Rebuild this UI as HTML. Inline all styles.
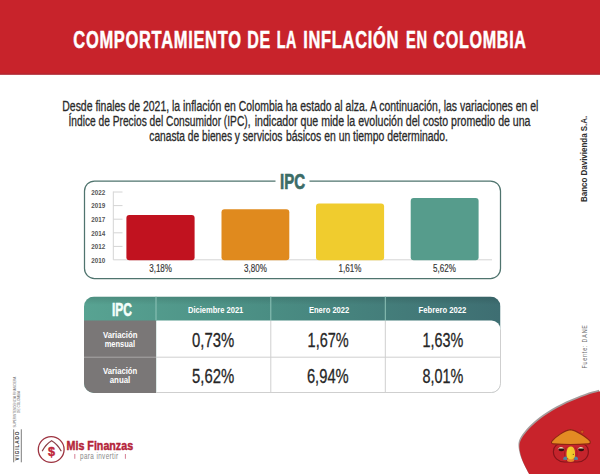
<!DOCTYPE html>
<html lang="es">
<head>
<meta charset="utf-8">
<title>Comportamiento de la inflación en Colombia</title>
<style>
html,body{margin:0;padding:0;background:#fff;}
body{width:600px;height:474px;overflow:hidden;font-family:"Liberation Sans",sans-serif;}
svg{display:block;}
text{font-family:"Liberation Sans",sans-serif;}
.b{font-weight:bold;}
</style>
</head>
<body>
<svg width="600" height="474" viewBox="0 0 600 474">
<defs>
<linearGradient id="hd" x1="0" y1="0" x2="1" y2="0">
<stop offset="0" stop-color="#58a392"/>
<stop offset="0.45" stop-color="#4a8d83"/>
<stop offset="1" stop-color="#3e6e72"/>
</linearGradient>
<linearGradient id="hdv" x1="0" y1="0" x2="0" y2="1">
<stop offset="0" stop-color="#000" stop-opacity="0.12"/>
<stop offset="0.35" stop-color="#000" stop-opacity="0"/>
</linearGradient>
<clipPath id="tblclip"><rect x="84" y="296.5" width="416.5" height="96.5" rx="10" ry="10"/></clipPath>
</defs>

<!-- header -->
<rect x="0" y="0" width="600" height="74.6" fill="#c8232b"/>
<rect x="0" y="73.6" width="600" height="1" fill="#a52a36"/>
<g class="b" font-size="23.3" fill="#fff" stroke="#fff" stroke-width="0.5" letter-spacing="1">
<text x="73.3" y="48" textLength="168.4" lengthAdjust="spacingAndGlyphs">COMPORTAMIENTO</text>
<text x="247.3" y="48" textLength="23.7" lengthAdjust="spacingAndGlyphs">DE</text>
<text x="276.7" y="48" textLength="20.3" lengthAdjust="spacingAndGlyphs">LA</text>
<text x="303.3" y="48" textLength="95.7" lengthAdjust="spacingAndGlyphs">INFLACIÓN</text>
<text x="406" y="48" textLength="21.7" lengthAdjust="spacingAndGlyphs">EN</text>
<text x="433.3" y="48" textLength="93.4" lengthAdjust="spacingAndGlyphs">COLOMBIA</text>
</g>

<!-- paragraph -->
<g fill="#2a2a2a" stroke="#2a2a2a" stroke-width="0.3" font-size="14">
<text x="62.3" y="110.8" textLength="476" lengthAdjust="spacingAndGlyphs">Desde finales de 2021, la inflación en Colombia ha estado al alza. A continuación, las variaciones en el</text>
<text x="68.5" y="126" textLength="182" lengthAdjust="spacingAndGlyphs">Índice de Precios del Consumidor (IPC),</text>
<text x="254.7" y="126" textLength="275.8" lengthAdjust="spacingAndGlyphs">indicador que mide la evolución del costo promedio de una</text>
<text x="149.3" y="141.2" textLength="133.1" lengthAdjust="spacingAndGlyphs">canasta de bienes y servicios</text>
<text x="286" y="141.2" textLength="162" lengthAdjust="spacingAndGlyphs">básicos en un tiempo determinado.</text>
</g>

<!-- chart box -->
<path d="M275.5 181 H94.5 a10 10 0 0 0 -10 10 V268.5 a10 10 0 0 0 10 10 H490.5 a10 10 0 0 0 10 -10 V191 a10 10 0 0 0 -10 -10 H309.5" fill="none" stroke="#4f746e" stroke-width="1.25"/>
<text class="b" x="280" y="189" font-size="22.6" fill="#3b6c66" stroke="#3b6c66" stroke-width="0.7" textLength="25" lengthAdjust="spacingAndGlyphs">IPC</text>

<!-- axis -->
<g stroke="#d4d4d4" stroke-width="1" fill="none">
<path d="M113.3 191.5 V259.8 H492"/>
<path d="M113.3 192 H122.5 M113.3 205.6 H122.5 M113.3 219.2 H122.5 M113.3 232.8 H122.5 M113.3 246.4 H122.5"/>
</g>
<g class="b" font-size="8" fill="#555">
<text x="91.3" y="194.8" textLength="14" lengthAdjust="spacingAndGlyphs">2022</text>
<text x="91.3" y="208.4" textLength="14" lengthAdjust="spacingAndGlyphs">2019</text>
<text x="91.3" y="222" textLength="14" lengthAdjust="spacingAndGlyphs">2017</text>
<text x="91.3" y="235.6" textLength="14" lengthAdjust="spacingAndGlyphs">2014</text>
<text x="91.3" y="249.2" textLength="14" lengthAdjust="spacingAndGlyphs">2012</text>
<text x="91.3" y="262.8" textLength="14" lengthAdjust="spacingAndGlyphs">2010</text>
</g>

<!-- bars -->
<rect x="126.4" y="214.9" width="68.2" height="45.3" rx="3" fill="#c1121f"/>
<rect x="221.5" y="209.3" width="67.8" height="50.9" rx="3" fill="#e08a1e"/>
<rect x="316" y="203.5" width="68.1" height="56.7" rx="3" fill="#f0cc2e"/>
<rect x="410.7" y="197.9" width="67.9" height="62.3" rx="3" fill="#569c8c"/>

<g font-size="10.2" fill="#333" stroke="#333" stroke-width="0.15" text-anchor="middle">
<text x="160.6" y="272.3" textLength="22.8" lengthAdjust="spacingAndGlyphs">3,18%</text>
<text x="255.5" y="272.3" textLength="22.8" lengthAdjust="spacingAndGlyphs">3,80%</text>
<text x="350" y="272.3" textLength="22.8" lengthAdjust="spacingAndGlyphs">1,61%</text>
<text x="444.4" y="272.3" textLength="22.8" lengthAdjust="spacingAndGlyphs">5,62%</text>
</g>

<!-- table -->
<g clip-path="url(#tblclip)">
<rect x="84" y="296.5" width="416.5" height="96.5" fill="url(#hd)"/>
<rect x="84" y="296.5" width="416.5" height="24" fill="url(#hdv)"/>
<rect x="84" y="320.5" width="72.2" height="72.5" fill="#7a7777"/>
<path d="M156.2 320.5 H491.5 a9 9 0 0 1 9 9 V393 H156.2 Z" fill="#fff"/>
<rect x="84" y="356.7" width="72" height="1" fill="#a9a7a7"/>
</g>
<g stroke="#cfcfcf" stroke-width="1" fill="none">
<path d="M156 357.2 H500.5"/>
<path d="M270.8 320.5 V393 M385.3 320.5 V393"/>
<path d="M156 392.5 H491.5 a9 9 0 0 0 9 -9 V329.5"/>
</g>
<g stroke="#8fc4b8" stroke-width="1" fill="none">
<path d="M156 296.5 V320.5 M270.8 296.5 V320.5 M385.3 296.5 V320.5"/>
</g>

<text class="b" x="112" y="316.2" font-size="18.7" fill="#f4fffb" stroke="#f4fffb" stroke-width="0.6" textLength="20" lengthAdjust="spacingAndGlyphs">IPC</text>
<g class="b" font-size="9.4" fill="#fff">
<text x="188" y="313" textLength="55.3" lengthAdjust="spacingAndGlyphs">Diciembre 2021</text>
<text x="308.9" y="313" textLength="40.3" lengthAdjust="spacingAndGlyphs">Enero 2022</text>
<text x="418.6" y="313" textLength="47.7" lengthAdjust="spacingAndGlyphs">Febrero 2022</text>
</g>
<g class="b" font-size="9.8" fill="#fff">
<text x="103" y="338.3" textLength="34.5" lengthAdjust="spacingAndGlyphs">Variación</text>
<text x="104.7" y="347" textLength="30.3" lengthAdjust="spacingAndGlyphs">mensual</text>
<text x="103" y="373.8" textLength="34.3" lengthAdjust="spacingAndGlyphs">Variación</text>
<text x="109.7" y="382.5" textLength="20.6" lengthAdjust="spacingAndGlyphs">anual</text>
</g>
<g font-size="20.4" fill="#262626" stroke="#262626" stroke-width="0.3">
<text x="192" y="347.1" textLength="42.2" lengthAdjust="spacingAndGlyphs">0,73%</text>
<text x="307.6" y="347.1" textLength="41.1" lengthAdjust="spacingAndGlyphs">1,67%</text>
<text x="422.4" y="347.1" textLength="40.8" lengthAdjust="spacingAndGlyphs">1,63%</text>
<text x="192" y="383.3" textLength="42.2" lengthAdjust="spacingAndGlyphs">5,62%</text>
<text x="306.9" y="383.3" textLength="41.8" lengthAdjust="spacingAndGlyphs">6,94%</text>
<text x="422.4" y="383.3" textLength="40.8" lengthAdjust="spacingAndGlyphs">8,01%</text>
</g>

<!-- side texts -->
<text class="b" font-size="8.9" fill="#2e2e2e" transform="translate(586.9 202) rotate(-90)" textLength="86.3" lengthAdjust="spacingAndGlyphs">Banco Davivienda S.A.</text>
<text font-size="7.8" fill="#6a6a6a" letter-spacing="1.2" transform="translate(587 368.6) rotate(-90)" textLength="44.3" lengthAdjust="spacingAndGlyphs">Fuente: DANE</text>

<!-- red corner -->
<path d="M600.0 391.2 C595.3 392.4 591.4 393.4 585.9 395.4 C580.4 397.4 573.3 400.0 567.0 403.0 C560.7 406.0 553.4 410.0 548.0 413.4 C542.6 416.8 538.5 420.2 534.7 423.5 C530.9 426.8 527.6 430.5 525.2 433.4 C522.8 436.3 521.4 438.5 520.4 441.0 C519.4 443.5 519.2 445.4 519.5 448.6 C519.8 451.8 520.7 455.8 522.3 460.0 C523.9 464.2 527.2 470.3 529.0 474.0 H600 Z" fill="#a59c9c" transform="translate(-0.9 -1.4)"/>
<path d="M600.0 391.2 C595.3 392.4 591.4 393.4 585.9 395.4 C580.4 397.4 573.3 400.0 567.0 403.0 C560.7 406.0 553.4 410.0 548.0 413.4 C542.6 416.8 538.5 420.2 534.7 423.5 C530.9 426.8 527.6 430.5 525.2 433.4 C522.8 436.3 521.4 438.5 520.4 441.0 C519.4 443.5 519.2 445.4 519.5 448.6 C519.8 451.8 520.7 455.8 522.3 460.0 C523.9 464.2 527.2 470.3 529.0 474.0 H600 Z" fill="#c8232b"/>

<!-- mascot -->
<g>
<path d="M553.4 451.5 C553.4 446 557.5 443.4 562 443.4 H580 C584.5 443.4 588.4 446 588.4 451.5 C588.4 457.8 583.5 461.9 577.5 462 H564.5 C558.5 461.9 553.4 457.8 553.4 451.5 Z" fill="#c5242c" stroke="#86141a" stroke-width="1.2"/>
<path d="M566.2 447.5 C563.5 452 564 458 567.5 461.6 M575.4 447.5 C578 452 577.6 458 574 461.6" fill="none" stroke="#a01a20" stroke-width="0.8"/>
<path d="M557.6 449.2 q3.3 -4.2 7 0 z" fill="#f6e6c0"/>
<path d="M577.4 449.2 q3.3 -4.2 7 0 z" fill="#f6e6c0"/>
<path d="M558.6 448.6 h5.6 q0.6 2.6 -2.8 2.6 q-3.4 0 -2.8 -2.6 z" fill="#32120e"/>
<path d="M578.4 448.6 h5.6 q0.6 2.6 -2.8 2.6 q-3.4 0 -2.8 -2.6 z" fill="#32120e"/>
<path d="M565 456.4 q-2.6 1.4 -1.6 3.4 l3.6 0.2 v-3 z" fill="#4c86a0"/>
<path d="M576.2 456.4 q2.6 1.4 1.6 3.4 l-3.6 0.2 v-3 z" fill="#4c86a0"/>
<ellipse cx="570.6" cy="460.2" rx="3.6" ry="1.7" fill="#e8862a"/>
<path d="M570.7 446.4 C574.2 446.4 575.2 451.5 575 455 C574.8 458.3 573 459.3 570.7 459.3 C568.4 459.3 566.7 458.3 566.5 455 C566.3 451.5 567.2 446.4 570.7 446.4 Z" fill="#f0cf2c"/>
<path d="M571.4 446.5 C574.3 447 575.2 451.5 575 455 C574.8 458.3 573 459.3 571.4 459.3 Z" fill="#f2c12e" opacity="0.7"/>
<circle cx="573.3" cy="454.3" r="0.6" fill="#5a4a18"/>
<circle cx="582.2" cy="431.8" r="1.6" fill="#cf5a20" stroke="#a8241a" stroke-width="0.6"/>
<path d="M570.4 429.6 C576 430 587 437.8 589.8 440.8 C591 442.3 590.2 443.8 588.2 443.9 C578 444.6 563 444.6 553.6 443.9 C551.4 443.8 550.8 442.3 552.2 440.8 C555 437.6 564.8 430 570.4 429.6 Z" fill="#e38b23" stroke="#8f2414" stroke-width="1.1" stroke-linejoin="round"/>
</g>

<!-- vigilado -->
<g>
<path d="M13.7 429.3 V462.3 M21.3 429.3 V462.3" stroke="#444" stroke-width="0.7" fill="none"/>
<text class="b" font-size="5.6" fill="#333" letter-spacing="1.1" transform="translate(19.3 460.4) rotate(-90)" textLength="29.6" lengthAdjust="spacingAndGlyphs">VIGILADO</text>
<text font-size="2.6" fill="#666" transform="translate(15.7 427.6) rotate(-90)" textLength="51" lengthAdjust="spacingAndGlyphs">SUPERINTENDENCIA FINANCIERA</text>
<text font-size="2.6" fill="#666" transform="translate(20 412.9) rotate(-90)" textLength="22" lengthAdjust="spacingAndGlyphs">DE COLOMBIA</text>
</g>

<!-- mis finanzas logo -->
<g>
<circle cx="51.2" cy="449.5" r="12.9" fill="none" stroke="#9d3340" stroke-width="1.3"/>
<path d="M42.4 450.8 C45 446 48.3 442.8 51.6 440.8 C55 442.8 58.4 446 61 450.8" fill="none" stroke="#8a4048" stroke-width="1.3" stroke-linecap="round"/>
<text class="b" x="51.4" y="455.6" font-size="12.6" fill="#c0263c" stroke="#c0263c" stroke-width="0.4" text-anchor="middle">$</text>
<text class="b" x="66.6" y="450.1" font-size="12.6" fill="#b4243a" stroke="#b4243a" stroke-width="0.45" textLength="66.5" lengthAdjust="spacingAndGlyphs">Mis Finanzas</text>
<text x="80" y="459" font-size="8.4" fill="#888" letter-spacing="0.5" textLength="38.5" lengthAdjust="spacingAndGlyphs">para invertir</text>
<path d="M74.8 454 V458.8 M125.4 454 V458.8" stroke="#cc6078" stroke-width="0.8" fill="none"/>
</g>

</svg>
</body>
</html>
